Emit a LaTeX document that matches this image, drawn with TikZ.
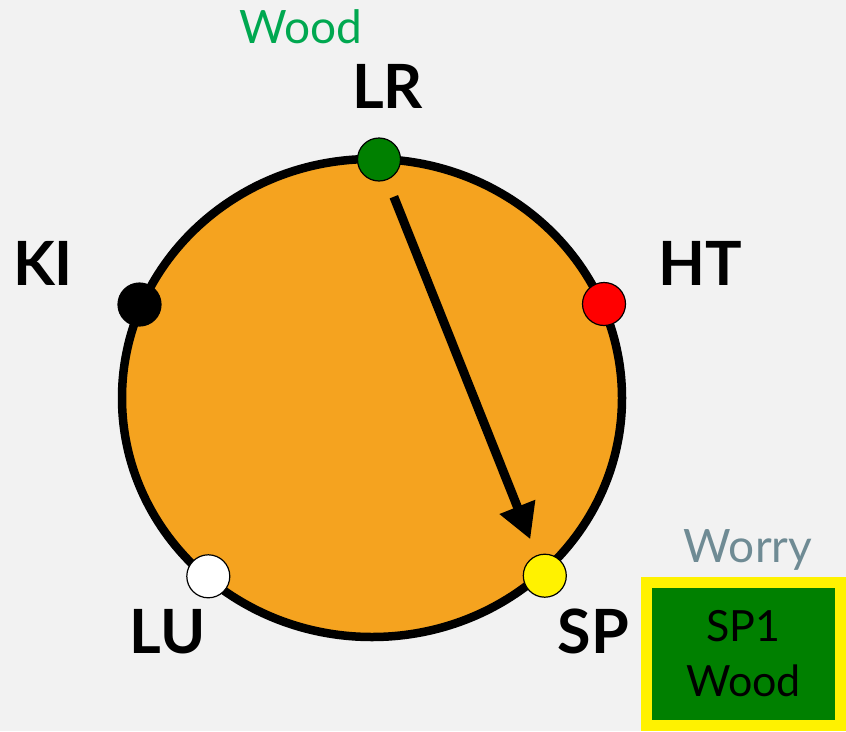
\documentclass[tikz,border=0pt]{standalone}
\usepackage{fontspec}
\setmainfont{Lato}
\usetikzlibrary{arrows.meta}

\definecolor{bggray}{HTML}{F2F2F2}
\definecolor{wheelorange}{HTML}{F5A31F}
\definecolor{woodgreen}{HTML}{00A850}
\definecolor{worrygray}{HTML}{6F8B94}
\definecolor{dotgreen}{HTML}{008000}

\begin{document}
\begin{tikzpicture}[
    x=1pt, y=-1pt,
    dot/.style={circle, draw=black, line width=1.2pt, minimum size=43pt, inner sep=0pt},
    organ/.style={anchor=base, inner sep=0pt, font=\bfseries\fontsize{61}{61}\selectfont},
    phase/.style={anchor=base, inner sep=0pt, font=\fontsize{46}{46}\selectfont},
    pointbox/.style={draw=yellow, fill=dotgreen, line width=11pt, minimum width=194pt, minimum height=143pt, inner sep=0pt, align=center, font=\fontsize{43}{55}\selectfont},
]

% Background
\path[use as bounding box, fill=bggray] (0,0) rectangle (846,731);

% === Wheel ===
\draw[line width=8.5pt, fill=wheelorange] (372,398) ellipse [x radius=250, y radius=239];

% Dots on the wheel
\node[dot, fill=dotgreen] (LR) at (379,159.5) {};
\node[dot, fill=red] (HT) at (604,304) {};
\node[dot, fill=black] (KI) at (139.5,304.5) {};
\node[dot, fill=white] (LU) at (208.3,576.3) {};
\node[dot, fill=yellow] (SP) at (544.8,575.7) {};

% Arrow from LR to SP
\draw[-{Triangle[length=35pt, width=36pt]}, line width=9pt, shorten <=18pt, shorten >=17pt] (LR) -- (SP);

% === Labels ===
\node[organ] (LRlabel) at (387.5,108) {LR};
\node[organ] (HTlabel) at (700.5,285) {HT};
\node[organ] (KIlabel) at (43,285) {KI};
\node[organ] (LUlabel) at (167.5,653) {LU};
\node[organ] (SPlabel) at (593.5,653) {SP};

\node[phase, woodgreen] (woodlabel) at (301,43) {Wood};
\node[phase, worrygray] (worrylabel) at (748,562) {Worry};

% === Point box ===
\node[pointbox] (SPone) at (743.5,654) {SP1\\Wood};

\end{tikzpicture}
\end{document}
